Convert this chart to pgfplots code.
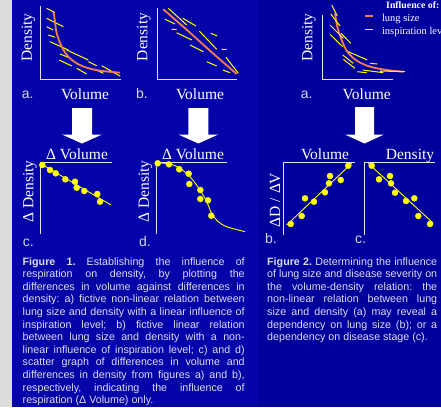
\documentclass[border=0pt]{standalone}
\usepackage{pgfplots}
\pgfplotsset{compat=1.18}
\usepackage{fontspec}
\setmainfont{Liberation Serif}
\newfontfamily\sansf{Liberation Sans}
\definecolor{bgL}{RGB}{4,4,168}
\definecolor{bgR}{RGB}{0,0,156}
\definecolor{strip}{RGB}{220,220,220}
\definecolor{axcol}{RGB}{225,225,240}
\definecolor{capcol}{RGB}{220,220,240}
\definecolor{lett}{RGB}{215,215,225}
\definecolor{ylw}{RGB}{255,255,0}
\definecolor{orng}{RGB}{245,125,75}
\newcommand\lblfont{\fontsize{15.5}{18}\selectfont}
\newcommand\letfont{\sansf\fontsize{14}{16}\selectfont}
\newcommand\capfont{\sansf\fontsize{10.7}{12.6}\selectfont\frenchspacing}
\newcommand\legfont{\fontsize{10.5}{12}\selectfont}
\pgfplotsset{
  panel/.style={scale only axis, clip=false, xtick=\empty, ytick=\empty,
    axis line style={axcol, line width=1pt}, axis y line*=left, unbounded coords=jump},
  top panel/.style={panel, axis x line*=bottom},
  low panel/.style={panel, axis x line*=top},
  dashes/.style={ylw, line width=1pt, mark=none},
  fit/.style={ylw, line width=0.9pt, mark=none},
  dots/.style={only marks, mark=*, mark size=3pt, mark options={fill=ylw, draw=ylw}},
  curve/.style={orng, line width=1.8pt, mark=none, smooth},
}
\begin{document}
\begin{tikzpicture}
\useasboundingbox (0,0) rectangle (441pt,-407pt);
\clip (0,0) rectangle (441pt,-407pt);
\fill[strip] (0,0) rectangle (12pt,-407pt);
\fill[bgL] (12pt,0) rectangle (258pt,-407pt);
\fill[bgR] (258pt,0) rectangle (441pt,-407pt);

% ---------- Fig 1a
\begin{axis}[top panel, at={(40pt,-79pt)}, anchor=south west, width=81pt, height=73pt,
  xmin=0, xmax=81, ymin=0, ymax=73]
\addplot[dashes] coordinates {(6.7,70.7)(15,66.3) (nan,nan)
 (6.7,60.7)(23.3,52.3) (nan,nan) (6.7,52.3)(13.3,49) (nan,nan)
 (8.3,44)(15,41.7) (nan,nan) (10,37.3)(28.3,29) (nan,nan)
 (20,25)(28.3,21.7) (nan,nan) (26.7,29)(48.3,19) (nan,nan)
 (19.3,19)(31.7,13) (nan,nan) (36.7,10.7)(46.7,5) (nan,nan)
 (48.3,17.3)(56.7,13.3) (nan,nan) (55,9.7)(63.3,5.7) (nan,nan)
 (61.7,13.3)(80,3)};
\addplot[curve] coordinates {(13.5,67)(14.3,62.3)(16.7,45.7)(21.7,32.3)(28.3,22.3)(36.7,15.7)(46.7,11.3)(60,8.3)(80,6.3)};
\end{axis}

% ---------- Fig 1b
\begin{axis}[top panel, at={(157pt,-79pt)}, anchor=south west, width=80pt, height=71pt,
  xmin=0, xmax=80, ymin=0, ymax=71]
\addplot[dashes] coordinates {(11.3,70.7)(29.7,54) (nan,nan)
 (8,59.7)(18,55) (nan,nan) (25.7,60.7)(39,53) (nan,nan)
 (14.7,49.7)(19.7,49.7) (nan,nan) (19.7,46.3)(34.7,39) (nan,nan)
 (42.3,48)(59.7,29.7) (nan,nan) (53.7,45.7)(60.3,43) (nan,nan)
 (33,34)(46.3,27.3) (nan,nan) (64.7,29.7)(69.7,29.7) (nan,nan)
 (49.7,17.3)(59.7,13) (nan,nan) (69,21.7)(81.3,5.7) (nan,nan)
 (65.7,9)(73,6.3)};
\addplot[curve] coordinates {(6.3,69.7)(30,49)(55,26.5)(79.7,5)};
\end{axis}

% ---------- Fig 2a
\begin{axis}[top panel, at={(322pt,-79pt)}, anchor=south west, width=71pt, height=64pt,
  xmin=0, xmax=71, ymin=0, ymax=64,
  legend image code/.code={\draw[#1] (0pt,3pt) -- (8pt,3pt);},
  legend style={at={(0.5915,1.039)}, anchor=north west, draw=none, fill=none, text=white,
    font=\legfont, inner sep=0pt, row sep=1.3pt,
    nodes={inner sep=1pt, text height=7.5pt, text depth=2.5pt},
    /tikz/every odd column/.append style={column sep=7pt}},
  legend cell align=left]
\addplot[curve] coordinates {(13,65.7)(15.3,52.3)(19.7,39)(25.3,27.3)(34.7,18.3)(48,12.3)(64.7,9)(81.3,7.3)};
\addlegendentry{lung size}
\addplot[dashes] coordinates {(9.7,74)(15.3,63) (nan,nan)
 (8.7,65)(18,53) (nan,nan) (8,54)(21.3,40.7) (nan,nan)
 (8,44.7)(20.7,32.3) (nan,nan) (19,45.7)(28.7,35.7) (nan,nan)
 (26.3,27.3)(45.3,19) (nan,nan) (20.7,24)(31.3,15.7) (nan,nan)
 (21.3,19.7)(33,10.7) (nan,nan) (48,15.7)(55.3,15) (nan,nan)
 (35.3,7.3)(44.7,6.3) (nan,nan) (40.7,9)(61.3,6.3) (nan,nan)
 (58,8)(83,7.3)};
\addlegendentry{inspiration level}
\end{axis}
\node[anchor=base west, inner sep=0pt, text=white] at (386pt,-8.3pt) {\fontsize{9.8}{11}\selectfont\textbf{Influence of:}};

% ---------- Fig 1c
\begin{axis}[low panel, at={(40pt,-162pt)}, anchor=north west, width=72pt, height=72pt,
  xmin=0, xmax=72, ymin=-72, ymax=0]
\addplot[fit] coordinates {(0,-1.3)(71,-43)};
\addplot[dots] coordinates {(2.3,-3)(10,-8)(15.7,-11.3)(25.3,-17.3)(35,-19.7)(36.7,-25.7)(44.3,-29)(57.3,-32)(60,-39.7)};
\end{axis}

% ---------- Fig 1d
\begin{axis}[low panel, at={(156pt,-162pt)}, anchor=north west, width=71pt, height=72pt,
  xmin=0, xmax=71, ymin=-72, ymax=0]
\addplot[fit, smooth] coordinates {(0.7,-0.7)(14,-2)(24,-6.3)(34,-14.7)(44,-28)(50.7,-39.7)(55.7,-51.3)(62.3,-59.7)(70.7,-64.7)(89,-69.7)};
\addplot[dots] coordinates {(1.7,-1.3)(13,-2.3)(23.3,-7.3)(32.7,-11.7)(33.3,-22)(44.3,-28)(44.3,-37)(52,-38.3)(55.3,-53.7)};
\end{axis}

% ---------- Fig 2b
\begin{axis}[low panel, at={(283.3pt,-162pt)}, anchor=north west, width=72pt, height=73pt,
  xmin=0, xmax=72, ymin=-73, ymax=0]
\addplot[fit] coordinates {(3.4,-63)(68.4,-1.3)};
\addplot[dots] coordinates {(7.4,-62)(18.4,-54)(21.7,-36.3)(30.7,-39.7)(41.7,-30.3)(45.7,-21.3)(46.7,-14)(57.4,-18)(65,-3.7)};
\end{axis}

% ---------- Fig 2c
\begin{axis}[low panel, at={(364pt,-162pt)}, anchor=north west, width=71pt, height=73pt,
  xmin=0, xmax=71, ymin=-73, ymax=0]
\addplot[fit] coordinates {(4.3,-1.3)(69.3,-61.3)};
\addplot[dots] coordinates {(7.7,-3.7)(15,-17.3)(26,-14)(27,-21.3)(31,-30.7)(42,-39)(50.3,-36.3)(54.3,-54)(66,-62)};
\end{axis}

% ---------- arrows
\fill[white] (72pt,-108pt) -- (92pt,-108pt) -- (92pt,-134.5pt) -- (102pt,-134.5pt) -- (82pt,-143.5pt) -- (62pt,-134.5pt) -- (72pt,-134.5pt) -- cycle;
\fill[white] (188.3pt,-108pt) -- (208.3pt,-108pt) -- (208.3pt,-134.5pt) -- (218.3pt,-134.5pt) -- (198.3pt,-143.5pt) -- (178.3pt,-134.5pt) -- (188.3pt,-134.5pt) -- cycle;
\fill[white] (355pt,-107pt) -- (374pt,-107pt) -- (374pt,-134.5pt) -- (384pt,-134.5pt) -- (364.5pt,-143.5pt) -- (345pt,-134.5pt) -- (355pt,-134.5pt) -- cycle;

% ---------- axis labels
\node[rotate=90, text=white] at (28.3pt,-37.5pt) {\lblfont Density};
\node[rotate=90, text=white] at (144pt,-37pt) {\lblfont Density};
\node[rotate=90, text=white] at (309pt,-37.5pt) {\lblfont Density};
\node[anchor=base, text=white] at (85pt,-99pt) {\lblfont Volume};
\node[anchor=base, text=white] at (200pt,-99pt) {\lblfont Volume};
\node[anchor=base, text=white] at (366.7pt,-99pt) {\lblfont Volume};
\node[anchor=base west, inner sep=0pt, text=lett] at (21.7pt,-98pt) {\letfont a.};
\node[anchor=base west, inner sep=0pt, text=lett] at (136pt,-98pt) {\letfont b.};
\node[anchor=base west, inner sep=0pt, text=lett] at (300.7pt,-98pt) {\letfont a.};

\node[anchor=base, text=white] at (77pt,-159.5pt) {\lblfont Δ Volume};
\node[anchor=base, text=white] at (193pt,-159.5pt) {\lblfont Δ Volume};
\node[anchor=base, text=white] at (325pt,-159.5pt) {\lblfont Volume};
\node[anchor=base, text=white] at (410pt,-159.5pt) {\lblfont Density};
\node[rotate=90, text=white] at (30pt,-191.5pt) {\lblfont Δ Density};
\node[rotate=90, text=white] at (145.5pt,-191.5pt) {\lblfont Δ Density};
\node[rotate=90, text=white] at (275pt,-200pt) {\lblfont ΔD / ΔV};
\node[anchor=base west, inner sep=0pt, text=lett] at (22.7pt,-246pt) {\letfont c.};
\node[anchor=base west, inner sep=0pt, text=lett] at (139pt,-246pt) {\letfont d.};
\node[anchor=base west, inner sep=0pt, text=lett] at (265pt,-243pt) {\letfont b.};
\node[anchor=base west, inner sep=0pt, text=lett] at (355pt,-243pt) {\letfont c.};

% ---------- captions
\node[anchor=base west, inner sep=0pt, text=capcol] at (22.5pt,-265pt) {\parbox[t]{222pt}{\capfont
\makebox[222pt][s]{\textbf{Figure 1.} Establishing the influence of}\\
\makebox[222pt][s]{respiration on density, by plotting the}\\
\makebox[222pt][s]{differences in volume against differences in}\\
\makebox[222pt][s]{density: a) fictive non-linear relation between}\\
\makebox[222pt][s]{lung size and density with a linear influence of}\\
\makebox[222pt][s]{inspiration level; b) fictive linear relation}\\
\makebox[222pt][s]{between lung size and density with a non-}\\
\makebox[222pt][s]{linear influence of inspiration level; c) and d)}\\
\makebox[222pt][s]{scatter graph of differences in volume and}\\
\makebox[222pt][s]{differences in density from figures a) and b),}\\
\makebox[222pt][s]{respectively, indicating the influence of}\\
respiration (Δ Volume) only.}};

\node[anchor=base west, inner sep=0pt, text=capcol] at (267pt,-265pt) {\parbox[t]{170pt}{\capfont
\makebox[170pt][s]{\textbf{Figure 2.} Determining the influence}\\
\makebox[170pt][s]{of lung size and disease severity on}\\
\makebox[170pt][s]{the volume-density relation: the}\\
\makebox[170pt][s]{non-linear relation between lung}\\
\makebox[170pt][s]{size and density (a) may reveal a}\\
\makebox[170pt][s]{dependency on lung size (b); or a}\\
dependency on disease stage (c).}};
\end{tikzpicture}
\end{document}
